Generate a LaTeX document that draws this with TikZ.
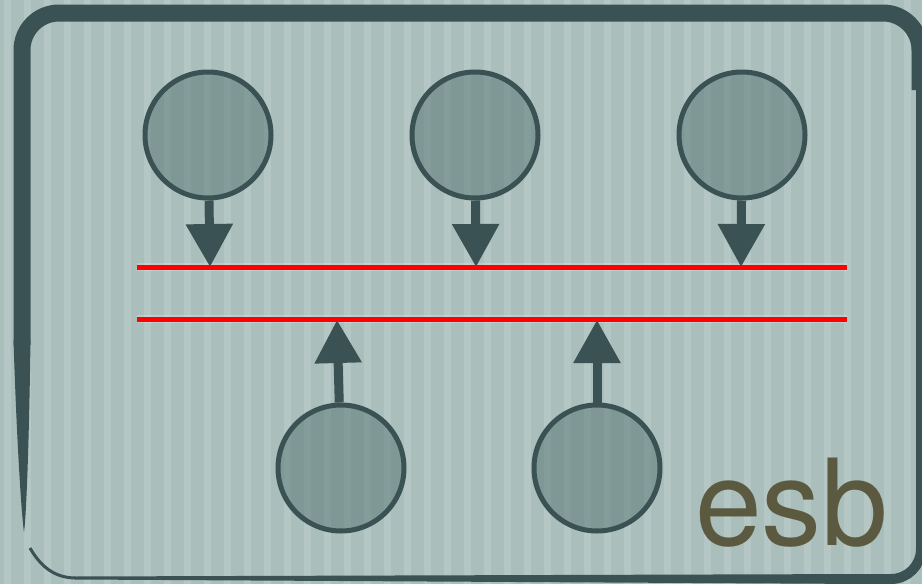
\documentclass[tikz,border=0pt]{standalone}
\usepackage{fontspec}
\setsansfont{TeX Gyre Heros}
\usetikzlibrary{arrows.meta}

\definecolor{slate}{HTML}{3A5254}
\definecolor{paper}{HTML}{AABEBB}
\definecolor{stripe}{HTML}{B5C7C4}
\definecolor{circfill}{HTML}{52706D}
\definecolor{brand}{HTML}{5B5A40}

\tikzset{
	queue/.style = {draw = slate,
					line width = 5pt,
					shape = circle,
					minimum size = 126pt,
					inner sep = 0pt,
					fill = circfill,
					fill opacity = 0.48,
					draw opacity = 1},
	push/.style = {draw = slate,
				   line width = 9pt,
				   -{Triangle[width = 45pt, length = 43pt]}},
	bus/.style = {draw = red,
				  line width = 5pt},
	glow/.style = {draw = white,
				   line width = 8pt,
				   opacity = 0.2}
}

\begin{document}
\begin{tikzpicture}[x = 1pt, y = -1pt]
	\useasboundingbox (0, 0) rectangle (922, 584);
	
	% background
	\fill[paper] (0, 0) rectangle (922, 584);
	\foreach \x in {4, 24, ..., 922}
		\fill[stripe] (\x, 0) rectangle ++(7, 584);
	
	% frame
	\draw[slate, line width = 17pt, rounded corners = 37pt]
		(22, 345) -- (22, 13) -- (920, 13) -- (920, 90);
	\draw[slate, line width = 10pt, rounded corners = 30pt]
		(921, 60) -- (921, 579) -- (860, 579);
	\fill[slate] (870, 574) -- (75, 576.5) -- (75, 579.5) -- (870, 584) -- cycle;
	\draw[slate, line width = 3pt]
		(76, 578) to[out = 180, in = -60] (30, 548);
	\fill[slate] (13.5, 340) -- (30.5, 340)
		.. controls (29, 450) and (26, 520) .. (24, 532)
		.. controls (22, 520) and (17, 450) .. (13.5, 340) -- cycle;
	
	% bus lines
	\coordinate (Aw) at (137, 267);
	\coordinate (Ae) at (847, 267);
	\coordinate (Bw) at (137, 319);
	\coordinate (Be) at (847, 319);
	
	\draw[glow] (Aw) -- (Ae);
	\draw[glow] (Bw) -- (Be);
	\draw[bus] (Aw) -- (Ae);
	\draw[bus] (Bw) -- (Be);
	
	% producers
	\draw (208, 135) node[queue](T1){};
	\draw (475, 135) node[queue](T2){};
	\draw (742, 135) node[queue](T3){};
	
	% consumers
	\draw (341, 468) node[queue](B1){};
	\draw (597, 468) node[queue](B2){};
	
	\coordinate (t1) at (210, 267);
	\coordinate (t2) at (476, 267);
	\coordinate (t3) at (741, 267);
	\coordinate (b1) at (337, 320);
	\coordinate (b2) at (597, 320);
	
	\draw[push] (T1) -- (t1);
	\draw[push] (T2) -- (t2);
	\draw[push] (T3) -- (t3);
	
	\draw[push] (B1) -- (b1);
	\draw[push] (B2) -- (b2);
	
	\draw (695, 545) node[anchor = base west,
						  inner sep = 0pt,
						  text = brand,
						  font = \sffamily\fontsize{120}{120}\selectfont
				   ](logo){esb};
\end{tikzpicture}
\end{document}
